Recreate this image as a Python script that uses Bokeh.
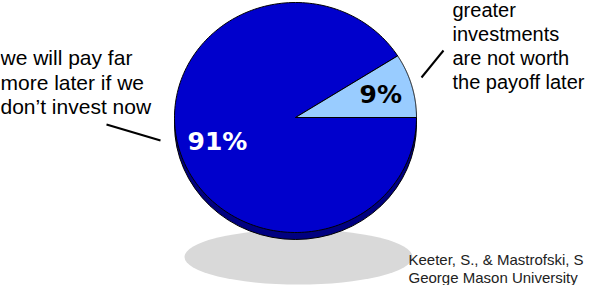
import numpy as np
from bokeh.plotting import figure
from bokeh.models import Range1d
from bokeh.core.properties import value
from bokeh.embed import file_html
from bokeh.resources import INLINE

# ---- data ----
categories = ["we will pay far more later if we don\u2019t invest now",
              "greater investments are not worth the payoff later"]
values = [91, 9]
pct_labels = ["91%", "9%"]
left_lines = ["we will pay far", "more later if we", "don\u2019t invest now"]
right_lines = ["greater", "investments", "are not worth", "the payoff later"]
source_lines = ["Keeter, S., & Mastrofski, S", "George Mason University"]

slice_colors = ["#0000CC", "#99CCFF"]
pct_colors = ["white", "black"]

W, H = 589, 285
p = figure(width=W, height=H, output_backend="svg", toolbar_location=None,
           x_range=Range1d(8, 8 + W), y_range=Range1d(8, 8 + H),
           min_border=0)
p.axis.visible = False
p.grid.visible = False
p.outline_line_color = None
p.background_fill_color = "white"
p.border_fill_color = "white"

def Y(img_y):
    return 301 - img_y

def TY(img_y):
    # text baseline position
    return 301 - (img_y - 8)

# pie geometry (pixel-based coordinates)
cx, cy = 303, Y(125)
rx, ry = 121, 115
depth = 7

# floor shadow
p.ellipse(x=[306], y=[Y(264.5)], width=[228], height=[55],
          fill_color="#D9D9D9", line_color=None)

# pie side (3-D thickness)
p.ellipse(x=[cx], y=[cy - depth], width=[2 * rx], height=[2 * ry],
          fill_color="#000080", line_color="black", line_width=1)

# slices from values
total = float(sum(values))
start = 2 * np.pi * values[1] / total
xs, ys = [], []
a0 = start
for v in values:
    a1 = a0 + 2 * np.pi * v / total
    t = np.linspace(a0, a1, 200)
    xs.append(list(np.r_[cx, cx + rx * np.cos(t), cx]))
    ys.append(list(np.r_[cy, cy + ry * np.sin(t), cy]))
    a0 = a1
p.patches(xs=xs, ys=ys, fill_color=slice_colors, line_color="black", line_width=1)

# percentage labels
p.text(x=[195, 367], y=[TY(157), TY(110)], text=pct_labels,
       text_color=pct_colors, text_font=value("DejaVu Sans"),
       text_font_style="bold", text_font_size="25px",
       text_baseline="alphabetic", text_align="left")

# category text
p.text(x=[8] * len(left_lines), y=[TY(73), TY(97.5), TY(122)], text=left_lines,
       text_color="black", text_font=value("Liberation Sans"),
       text_font_size="21px", text_baseline="alphabetic", text_align="left")
p.text(x=[460] * len(right_lines), y=[TY(25), TY(49), TY(73), TY(97)], text=right_lines,
       text_color="black", text_font=value("Liberation Sans"),
       text_font_size="20px", text_baseline="alphabetic", text_align="left")

# leader lines
p.segment(x0=[114, 429], y0=[Y(132), Y(85)], x1=[168, 451], y1=[Y(148), Y(58)],
          line_color="black", line_width=2)

# source
p.text(x=[416, 416], y=[TY(275), TY(293)], text=source_lines,
       text_color="#222222", text_font=value("Liberation Sans"),
       text_font_size="15px", text_baseline="alphabetic", text_align="left")

open("out.html", "w").write(file_html(p, INLINE))
